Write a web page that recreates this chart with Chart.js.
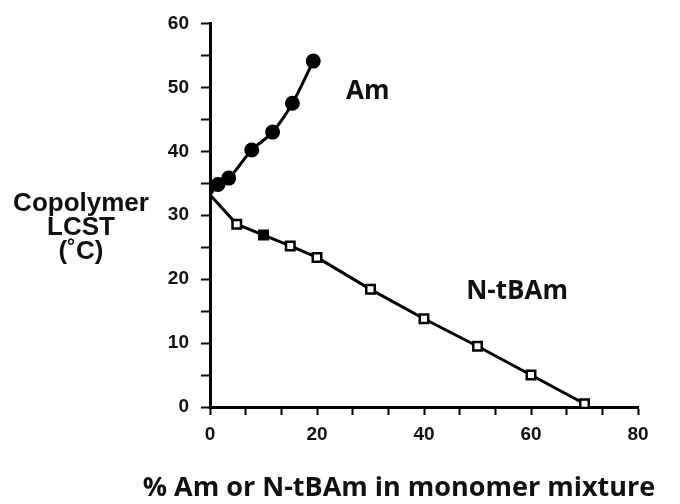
<!DOCTYPE html>
<html lang="en">
<head>
    <meta charset="UTF-8">
    <title>Copolymer LCST</title>
    <script src="https://cdn.jsdelivr.net/npm/chart.js"></script>
    <style>
        body {
            margin: 0;
            background-color: #fff;
        }
        canvas {
            background-color: #fff;
        }
    </style>
</head>
<body>
    <canvas id="lcstChart" width="680" height="504"></canvas>

    <script>
        /***************************
                   DATA
        ***************************/

        // Am series (first point is where the curve leaves the axis, no marker)
        const amX = [0, 1.5, 3.5, 7.8, 11.7, 15.4, 19.3];
        const amY = [33.2, 34.8, 35.8, 40.2, 43.0, 47.5, 54.1];

        // N-tBAm series (same, first point has no marker)
        const tbX = [0, 5, 10, 15, 20, 30, 40, 50, 60, 70];
        const tbY = [33.2, 28.6, 26.9, 25.2, 23.4, 18.4, 13.8, 9.5, 5.0, 0.5];

        // ticks (minor ones get no label)
        const xTicks = [0, 6.67, 13.33, 20, 26.67, 33.33, 40, 46.67, 53.33, 60, 66.67, 73.33, 80];
        const xLabels = [0, 20, 40, 60, 80];
        const yTicks = [0, 5, 10, 15, 20, 25, 30, 35, 40, 45, 50, 55, 60];
        const yLabels = [0, 10, 20, 30, 40, 50, 60];

        const yTitle = ['Copolymer', 'LCST', '(\u02daC)'];
        const xTitle = '% Am or N-tBAm in monomer mixture';
        const seriesNames = ['Am', 'N-tBAm'];
        const seriesLabelPos = [[29.5, 49.3], [57.4, 18.0]];

        /***************************
                 HELPERS
        ***************************/

        function toPoints(xs, ys) {
            return xs.map((x, i) => ({ x: x, y: ys[i] }));
        }

        // draws the axis title and the series names
        const textPlugin = {
            id: 'texts',
            afterDraw(chart) {
                const ctx = chart.ctx;
                const xs = chart.scales.x;
                const ys = chart.scales.y;
                ctx.save();
                ctx.fillStyle = '#111';
                ctx.textAlign = 'center';
                ctx.textBaseline = 'middle';

                // y title, three lines on the left
                ctx.font = 'bold 26px "Liberation Sans", Arial, sans-serif';
                yTitle.forEach((line, i) => {
                    ctx.fillText(line, 81, 204 + i * 24);
                });

                // x title below the axis
                ctx.font = 'bold 27px "Open Sans", sans-serif';
                ctx.fillText(xTitle, 399, 488);

                // series names next to the lines
                ctx.font = 'bold 26px "Open Sans", sans-serif';
                seriesNames.forEach((name, i) => {
                    const p = seriesLabelPos[i];
                    ctx.fillText(name, xs.getPixelForValue(p[0]), ys.getPixelForValue(p[1]));
                });
                ctx.restore();
            }
        };

        /***************************
                  CHART
        ***************************/

        const ctx = document.getElementById('lcstChart').getContext('2d');

        new Chart(ctx, {
            type: 'scatter',
            data: {
                datasets: [
                    {
                        label: 'Am',
                        data: toPoints(amX, amY),
                        showLine: true,
                        borderColor: '#000',
                        borderWidth: 3,
                        cubicInterpolationMode: 'monotone',
                        pointStyle: 'circle',
                        pointRadius: (c) => c.dataIndex === 0 ? 0 : 6,
                        pointBackgroundColor: '#000',
                        pointBorderColor: '#000'
                    },
                    {
                        label: 'N-tBAm',
                        data: toPoints(tbX, tbY),
                        showLine: true,
                        borderColor: '#000',
                        borderWidth: 3,
                        tension: 0,
                        pointStyle: 'rect',
                        pointRadius: (c) => c.dataIndex === 0 ? 0 : 6,
                        pointBorderWidth: 2.5,
                        pointBackgroundColor: (c) => c.dataIndex === 2 ? '#000' : '#fff',
                        pointBorderColor: '#000'
                    }
                ]
            },
            options: {
                responsive: false,
                animation: false,
                layout: {
                    padding: { top: 23, right: 42, left: 0, bottom: 0 }
                },
                plugins: {
                    legend: { display: false },
                    tooltip: { enabled: false }
                },
                scales: {
                    x: {
                        type: 'linear',
                        min: 0,
                        max: 80,
                        afterFit: (s) => { s.height = 97; },
                        afterBuildTicks: (s) => { s.ticks = xTicks.map(v => ({ value: v })); },
                        border: { display: true, color: '#000', width: 3 },
                        grid: {
                            drawOnChartArea: false,
                            drawTicks: true,
                            tickLength: 8,
                            tickWidth: 2,
                            tickColor: '#000'
                        },
                        ticks: {
                            autoSkip: false,
                            maxRotation: 0,
                            padding: 8,
                            color: '#111',
                            font: { family: '"Liberation Sans", Arial', size: 19, weight: 'bold' },
                            callback: (v) => xLabels.includes(v) ? v : ''
                        }
                    },
                    y: {
                        type: 'linear',
                        min: 0,
                        max: 60,
                        afterFit: (s) => { s.width = 210; },
                        afterBuildTicks: (s) => { s.ticks = yTicks.map(v => ({ value: v })); },
                        border: { display: true, color: '#000', width: 3 },
                        grid: {
                            drawOnChartArea: false,
                            drawTicks: true,
                            tickLength: 9,
                            tickWidth: 2,
                            tickColor: '#000'
                        },
                        ticks: {
                            autoSkip: false,
                            padding: 12,
                            color: '#111',
                            font: { family: '"Liberation Sans", Arial', size: 19, weight: 'bold' },
                            callback: (v) => yLabels.includes(v) ? v : ''
                        }
                    }
                }
            },
            plugins: [textPlugin]
        });
    </script>
</body>
</html>
